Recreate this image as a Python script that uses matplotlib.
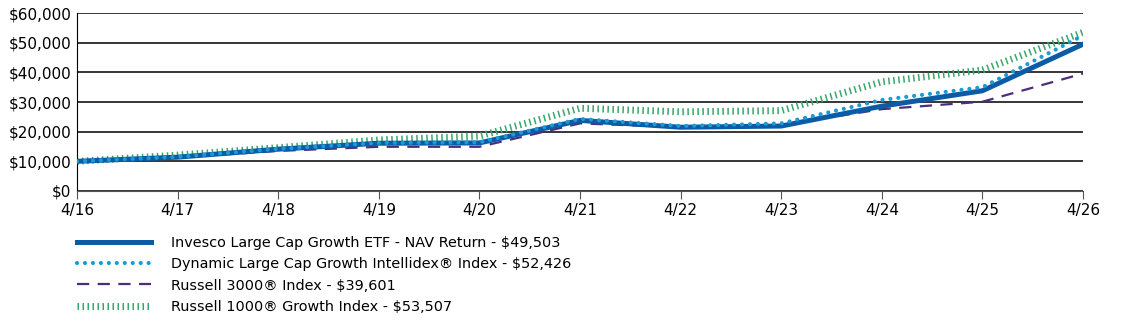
import numpy as np
import matplotlib.pyplot as plt

years = ["4/16", "4/17", "4/18", "4/19", "4/20", "4/21", "4/22", "4/23", "4/24", "4/25", "4/26"]
fund = [10000, 11400, 14100, 16100, 16200, 23800, 21500, 21900, 28600, 33800, 49503]
intellidex = [10000, 11500, 14200, 16200, 16400, 24300, 21900, 22800, 30700, 35000, 52426]
russell3000 = [10000, 11300, 13500, 14900, 14900, 22800, 21500, 22200, 27600, 30100, 39601]
russell1000g = [10000, 12100, 14600, 17200, 18500, 27900, 26700, 27100, 36800, 40800, 53507]

labels = ["Invesco Large Cap Growth ETF - NAV Return - $49,503",
          "Dynamic Large Cap Growth Intellidex\u00ae Index - $52,426",
          "Russell 3000\u00ae Index - $39,601",
          "Russell 1000\u00ae Growth Index - $53,507"]

plt.rcParams['font.family'] = ['DejaVu Sans']

fig = plt.figure(figsize=(11.23, 3.27), dpi=100)
ax = fig.add_axes([0.0686, 0.416, 0.8958, 0.544])
x = np.arange(len(years))

l4, = ax.plot(x, russell1000g, color="#3aa66b", lw=5, dashes=(0.22, 0.5),
              solid_capstyle="butt", dash_capstyle="butt", zorder=2)
l3, = ax.plot(x, russell3000, color="#4b2d80", lw=1.6, dashes=(5.5, 3.8), zorder=3)
l1, = ax.plot(x, fund, color="#0b5ca5", lw=3.6, zorder=4)
l2, = ax.plot(x, intellidex, color="#1a9ad6", lw=3, dashes=(0.01, 1.9),
              dash_capstyle="round", zorder=5)

ax.set_xlim(0, 10)
ax.set_ylim(0, 60000)
ax.set_yticks(np.arange(0, 60001, 10000))
ax.set_yticklabels(["$0", "$10,000", "$20,000", "$30,000", "$40,000", "$50,000", "$60,000"])
ax.set_xticks(x)
ax.set_xticklabels(years)
ax.grid(axis="y", color="black", lw=1.1)
ax.set_axisbelow(True)
for s in ["top", "right"]:
    ax.spines[s].set_visible(False)
ax.spines["left"].set_color("black")
ax.spines["bottom"].set_color("#555555")
ax.tick_params(axis="y", length=0, labelsize=11, pad=4)
ax.tick_params(axis="x", length=6, color="#555555", labelsize=11, pad=3)

fig.legend([l1, l2, l3, l4], labels, loc="upper left", bbox_to_anchor=(0.069, 0.278),
           frameon=False, fontsize=10.4, handlelength=5.1, handletextpad=1.35,
           labelspacing=0.5, borderpad=0, borderaxespad=0)

fig.savefig("out.png", dpi=100)
